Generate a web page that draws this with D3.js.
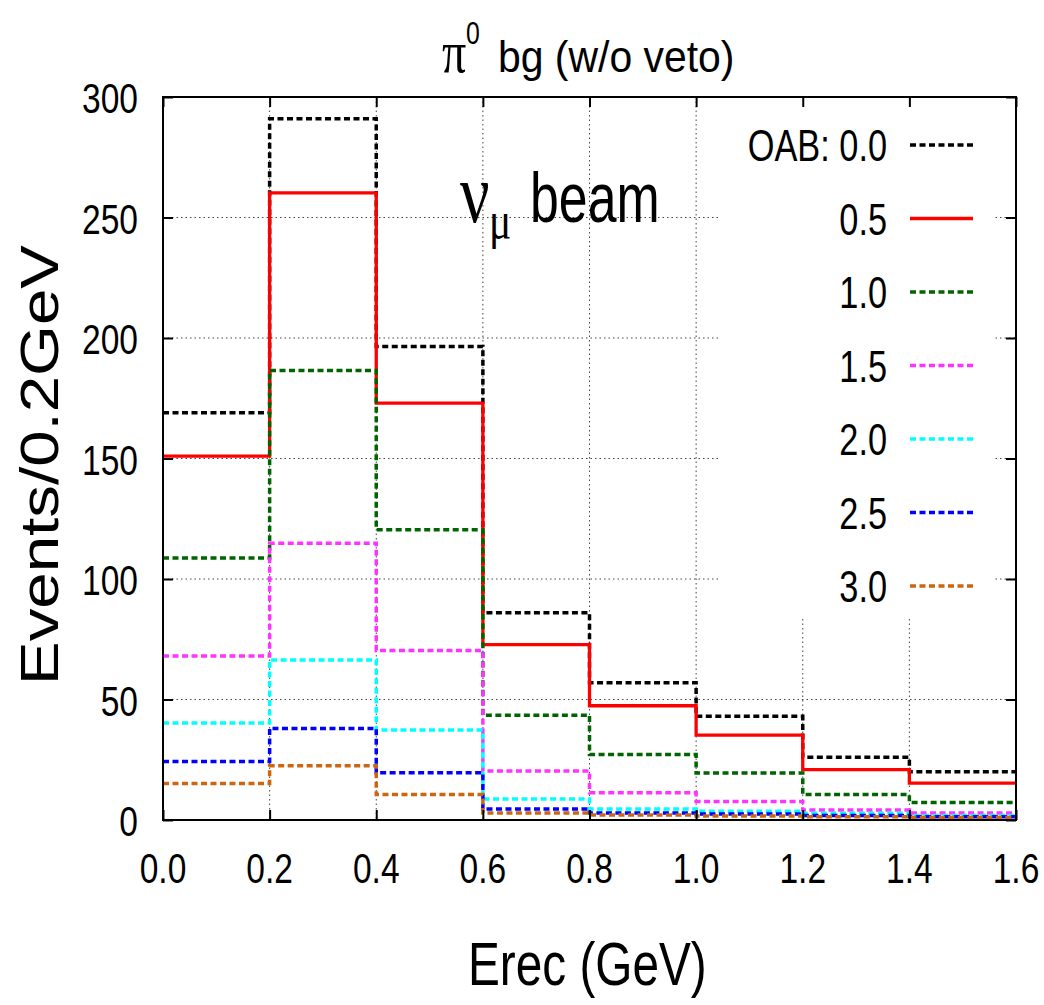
<!DOCTYPE html>
<html>
<head>
<meta charset="utf-8">
<script src="https://cdn.jsdelivr.net/npm/d3@7"></script>
<style>
  html, body { margin: 0; padding: 0; background: #fff; }
  svg { display: block; }
  text { fill: #000; }
</style>
</head>
<body>
<svg id="chart" width="1044" height="1005"></svg>
<script>
// Histogram bin edges (GeV) and tick values
const binEdges = [0.0, 0.2, 0.4, 0.6, 0.8, 1.0, 1.2, 1.4, 1.6];
const xTicks = [0.0, 0.2, 0.4, 0.6, 0.8, 1.0, 1.2, 1.4, 1.6];
const yTicks = [0, 50, 100, 150, 200, 250, 300];

// Off-axis angle labels
const oabLabels = ["OAB: 0.0", "0.5", "1.0", "1.5", "2.0", "2.5", "3.0"];

// Events per 0.2 GeV bin for each off-axis angle
const oab00 = [169, 291, 196.5, 86, 57, 43, 26, 20];
const oab05 = [151, 260.2, 173, 72.8, 47.4, 35.2, 20.9, 15.3];
const oab10 = [108.7, 186.5, 120.4, 43.5, 27.2, 19.5, 10.6, 7.3];
const oab15 = [68, 114.8, 70.3, 20.3, 11.3, 7.7, 4.1, 2.9];
const oab20 = [40.3, 66.4, 37.3, 8.7, 4.6, 3.6, 2.8, 1.9];
const oab25 = [24.3, 38, 19.6, 4.6, 2.9, 2.5, 1.9, 1.4];
const oab30 = [15.1, 22.5, 10.6, 2.9, 2.1, 1.7, 1.4, 1.0];

const seriesValues = [oab00, oab05, oab10, oab15, oab20, oab25, oab30];
const seriesColors = ["#000000", "#ff0000", "#006400", "#ff33ff", "#00ffff", "#0000ff", "#cc6611"];
const seriesDash = ["6,3.5", null, "6,3.5", "6,3.5", "6,3.5", "6,3.5", "6,3.5"];
const seriesWidth = [3.5, 3.3, 3.5, 3.5, 3.5, 3.5, 3.5];

const svg = d3.select("#chart");
const plotL = 163, plotR = 1016, plotT = 97, plotB = 820;

const x = d3.scaleLinear().domain([0, 1.6]).range([plotL, plotR]);
const y = d3.scaleLinear().domain([0, 300]).range([plotB, plotT]);

const SANS = "'Liberation Sans', Arial, Helvetica, sans-serif";
const SERIF = "'Liberation Serif', 'Times New Roman', serif";

// Text with a horizontal squeeze to mimic a condensed face
function label(parent, str, px, py, size, sx, anchor, family) {
  const g = parent.append("g").attr("transform", `translate(${px},${py}) scale(${sx},1)`);
  return g.append("text")
    .attr("font-family", family || SANS)
    .attr("font-size", size)
    .attr("text-anchor", anchor || "start")
    .text(str);
}

// Grid
const grid = svg.append("g");
grid.selectAll("line.gx").data(xTicks.slice(1, -1)).join("line")
  .attr("x1", d => x(d)).attr("x2", d => x(d))
  .attr("y1", plotT).attr("y2", plotB)
  .attr("stroke", "#444").attr("stroke-width", 1).attr("stroke-dasharray", "1.5,3");
grid.selectAll("line.gy").data(yTicks.slice(1, -1)).join("line")
  .attr("x1", plotL).attr("x2", plotR)
  .attr("y1", d => y(d)).attr("y2", d => y(d))
  .attr("stroke", "#444").attr("stroke-width", 1).attr("stroke-dasharray", "1.5,3");

// Opaque key background
svg.append("rect").attr("x", 718).attr("y", plotT + 1).attr("width", 275).attr("height", 519)
  .attr("fill", "#fff");

// Step histograms
const stepLine = d3.line()
  .x(d => x(d[0])).y(d => y(d[1]))
  .curve(d3.curveStepAfter);

seriesValues.forEach((vals, i) => {
  const pts = vals.map((v, k) => [binEdges[k], v]);
  pts.push([binEdges[binEdges.length - 1], vals[vals.length - 1]]);
  svg.append("path")
    .attr("d", stepLine(pts))
    .attr("fill", "none")
    .attr("stroke", seriesColors[i])
    .attr("stroke-width", seriesWidth[i])
    .attr("stroke-dasharray", seriesDash[i]);
});

// Axes: ticks inward on all four sides
const tickLen = 10;
const axB = svg.append("g").attr("transform", `translate(0,${plotB})`)
  .call(d3.axisBottom(x).tickValues(xTicks).tickSize(-tickLen).tickFormat(""));
const axT = svg.append("g").attr("transform", `translate(0,${plotT})`)
  .call(d3.axisTop(x).tickValues(xTicks).tickSize(-tickLen).tickFormat(""));
const axL = svg.append("g").attr("transform", `translate(${plotL},0)`)
  .call(d3.axisLeft(y).tickValues(yTicks).tickSize(-tickLen).tickFormat(""));
const axR = svg.append("g").attr("transform", `translate(${plotR},0)`)
  .call(d3.axisRight(y).tickValues(yTicks).tickSize(-tickLen).tickFormat(""));
[axB, axT, axL, axR].forEach(a => {
  a.select(".domain").remove();
  a.selectAll(".tick line").attr("stroke", "#000").attr("stroke-width", 2);
});

// Frame
svg.append("rect").attr("x", plotL).attr("y", plotT)
  .attr("width", plotR - plotL).attr("height", plotB - plotT)
  .attr("fill", "none").attr("stroke", "#000").attr("stroke-width", 2);

// Tick labels
xTicks.forEach(v => label(svg, d3.format(".1f")(v), x(v), 883, 43, 0.78, "middle"));
yTicks.forEach(v => label(svg, String(v), 138, y(v) + 16, 43, 0.78, "end"));

// Key
const keyY0 = 145, keyDy = 73.5;
oabLabels.forEach((t, i) => {
  const cy = keyY0 + i * keyDy;
  label(svg, t, 887, cy + 16, 44, 0.78, "end");
  svg.append("line")
    .attr("x1", 910).attr("x2", 973).attr("y1", cy).attr("y2", cy)
    .attr("stroke", seriesColors[i]).attr("stroke-width", seriesWidth[i])
    .attr("stroke-dasharray", seriesDash[i]);
});

// Title
label(svg, "\u03c0", 442, 72, 60, 0.8, "start", SERIF);
label(svg, "0", 466, 44, 31, 0.8, "start");
label(svg, "bg (w/o veto)", 498, 72, 44, 0.93, "start");

// Beam annotation
label(svg, "\u03bd", 460, 222, 84, 0.78, "start", SERIF);
label(svg, "\u03bc", 489, 238, 52, 0.8, "start", SERIF);
label(svg, "beam", 530, 222, 71, 0.73, "start");

// Axis titles
label(svg, "Erec (GeV)", 468, 985, 62, 0.77, "start");
svg.append("text")
  .attr("transform", "translate(58,465) rotate(-90)")
  .attr("font-family", SANS).attr("font-size", 53)
  .attr("text-anchor", "middle")
  .attr("textLength", 440).attr("lengthAdjust", "spacingAndGlyphs")
  .text("Events/0.2GeV");
</script>
</body>
</html>
